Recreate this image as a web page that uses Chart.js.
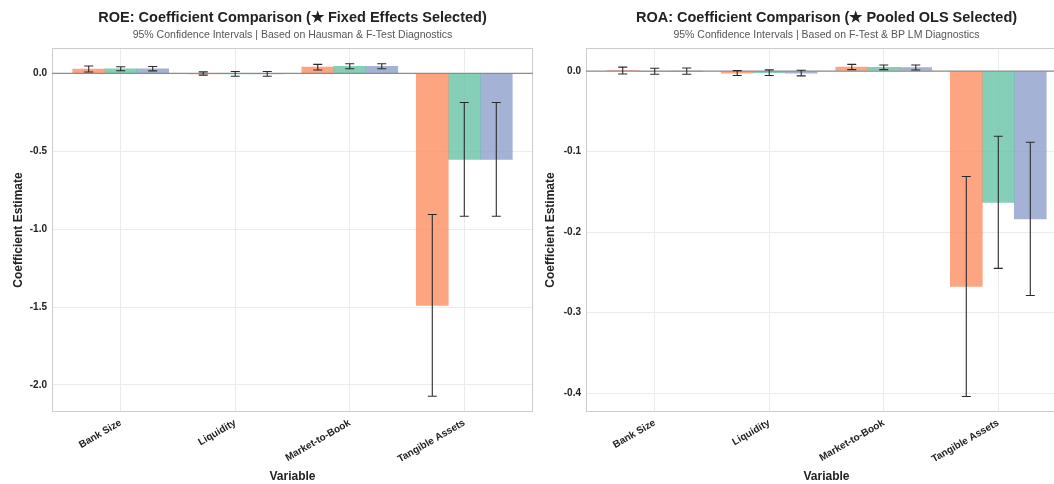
<!DOCTYPE html>
<html>
<head>
<meta charset="utf-8">
<script src="https://cdn.jsdelivr.net/npm/chart.js@4.4.1/dist/chart.umd.min.js"></script>
<style>
  html, body { margin: 0; padding: 0; background: #fff; overflow: hidden; }
  #wrap { position: relative; width: 1054px; height: 484px; overflow: hidden; }
  #roeChart { position: absolute; left: 0; top: 0; }
  #roaChart { position: absolute; left: 530px; top: 0; }
</style>
</head>
<body>
<div id="wrap">
  <canvas id="roeChart" width="534" height="484"></canvas>
  <canvas id="roaChart" width="540" height="484"></canvas>
</div>
<script>
// ---- data ----
const categories = ['Bank Size', 'Liquidity', 'Market-to-Book', 'Tangible Assets'];
const seriesNames = ['Pooled OLS', 'Fixed Effects', 'Random Effects'];

// ROE coefficients + 95% CI
const roePooled      = [0.028, -0.001, 0.040, -1.490];
const roePooledLow   = [0.009, -0.011, 0.022, -2.073];
const roePooledHigh  = [0.047,  0.010, 0.058, -0.906];
const roeFixed       = [0.030, -0.003, 0.046, -0.552];
const roeFixedLow    = [0.017, -0.018, 0.030, -0.917];
const roeFixedHigh   = [0.043,  0.012, 0.062, -0.187];
const roeRandom      = [0.030, -0.003, 0.046, -0.552];
const roeRandomLow   = [0.016, -0.018, 0.030, -0.917];
const roeRandomHigh  = [0.044,  0.012, 0.062, -0.187];

// ROA coefficients + 95% CI
const roaPooled      = [0.0006, -0.0025, 0.0050, -0.2675];
const roaPooledLow   = [-0.0037, -0.0055, 0.0017, -0.4040];
const roaPooledHigh  = [0.0049,  0.0005, 0.0083, -0.1310];
const roaFixed       = [-0.0003, -0.0020, 0.0046, -0.1630];
const roaFixedLow    = [-0.0040, -0.0055, 0.0017, -0.2450];
const roaFixedHigh   = [0.0034,  0.0015, 0.0075, -0.0810];
const roaRandom      = [-0.0001, -0.0025, 0.0043, -0.1835];
const roaRandomLow   = [-0.0040, -0.0060, 0.0012, -0.2786];
const roaRandomHigh  = [0.0037,  0.0010, 0.0075, -0.0884];

const roeTicks = [-2.0, -1.5, -1.0, -0.5, 0.0];
const roaTicks = [-0.4, -0.3, -0.2, -0.1, 0.0];

// ---- styles ----
const FONT = "'Liberation Sans', Arial, sans-serif";
const colors = ['rgba(252,141,98,0.8)', 'rgba(102,194,165,0.8)', 'rgba(141,160,203,0.8)'];

Chart.defaults.font.family = FONT;
Chart.defaults.color = '#222';

const frameAndErrors = {
  id: 'frameAndErrors',
  afterDatasetsDraw(chart) {
    const { ctx, chartArea: a, scales: { y } } = chart;
    ctx.save();
    // frame
    ctx.strokeStyle = '#cccccc';
    ctx.lineWidth = 1;
    ctx.strokeRect(a.left + 0.5, a.top + 0.5, a.right - a.left - 1, a.bottom - a.top - 1);
    // zero line
    const y0 = y.getPixelForValue(0);
    ctx.strokeStyle = '#8c8c8c';
    ctx.lineWidth = 1.2;
    ctx.beginPath();
    ctx.moveTo(a.left, y0);
    ctx.lineTo(a.right, y0);
    ctx.stroke();
    // error bars
    ctx.strokeStyle = '#2a2a2a';
    ctx.lineWidth = 1.1;
    chart.data.datasets.forEach((ds, i) => {
      chart.getDatasetMeta(i).data.forEach((bar, j) => {
        const yl = y.getPixelForValue(ds.low[j]);
        const yh = y.getPixelForValue(ds.high[j]);
        const x = bar.x;
        ctx.beginPath();
        ctx.moveTo(x, yl); ctx.lineTo(x, yh);
        ctx.moveTo(x - 4.5, yl); ctx.lineTo(x + 4.5, yl);
        ctx.moveTo(x - 4.5, yh); ctx.lineTo(x + 4.5, yh);
        ctx.stroke();
      });
    });
    ctx.restore();
  }
};

function makeDatasets(values, lows, highs) {
  return values.map((vals, s) => ({
    label: seriesNames[s],
    data: vals.map((v, i) => ({ x: i, y: v })),
    low: lows[s],
    high: highs[s],
    backgroundColor: colors[s],
    borderWidth: 0,
    barThickness: 32
  }));
}

function makeChart(el, cfg) {
  return new Chart(el, {
    type: 'bar',
    data: { datasets: makeDatasets(cfg.values, cfg.lows, cfg.highs) },
    options: {
      responsive: false,
      animation: false,
      layout: { padding: { left: 0, right: cfg.padRight, top: 0, bottom: 0 } },
      plugins: {
        legend: { display: false },
        tooltip: { enabled: false },
        title: {
          display: true, text: cfg.title, fullSize: false, color: '#222',
          font: { size: 14.5, weight: 'bold' }, padding: { top: 9, bottom: 0 }
        },
        subtitle: {
          display: true, text: cfg.subtitle, fullSize: false, color: '#555',
          font: { size: 10.5 }, padding: { top: 2, bottom: 7 }
        }
      },
      scales: {
        x: {
          type: 'linear', min: -0.6, max: 3.6, offset: false,
          grid: { color: '#ebebeb', offset: false, drawTicks: false },
          border: { display: false },
          afterFit: s => { s.height = 72; },
          ticks: {
            stepSize: 1, includeBounds: false, autoSkip: false,
            minRotation: 30, maxRotation: 30, padding: 5,
            font: { size: 10, weight: 'bold' }, color: '#222',
            callback: v => categories[v] ?? ''
          },
          title: { display: true, text: 'Variable', font: { size: 12, weight: 'bold' }, padding: { top: 0, bottom: 0 } }
        },
        y: {
          min: cfg.yMin, max: cfg.yMax,
          afterFit: s => { s.width = cfg.yWidth; },
          afterBuildTicks: s => { s.ticks = cfg.ticks.map(v => ({ value: v })); },
          grid: { color: '#ebebeb', drawTicks: false },
          border: { display: false },
          ticks: {
            padding: 5, font: { size: 10, weight: 'bold' }, color: '#222',
            callback: v => v.toFixed(1)
          },
          title: { display: true, text: 'Coefficient Estimate', font: { size: 12, weight: 'bold' }, padding: { top: cfg.yTitlePad, bottom: 0 } }
        }
      }
    },
    plugins: [frameAndErrors]
  });
}

makeChart(document.getElementById('roeChart'), {
  title: 'ROE: Coefficient Comparison (\u2605 Fixed Effects Selected)',
  subtitle: '95% Confidence Intervals | Based on Hausman & F-Test Diagnostics',
  values: [roePooled, roeFixed, roeRandom],
  lows: [roePooledLow, roeFixedLow, roeRandomLow],
  highs: [roePooledHigh, roeFixedHigh, roeRandomHigh],
  ticks: roeTicks,
  yMin: -2.174, yMax: 0.163, yWidth: 52, yTitlePad: 11, padRight: 1
});

makeChart(document.getElementById('roaChart'), {
  title: 'ROA: Coefficient Comparison (\u2605 Pooled OLS Selected)',
  subtitle: '95% Confidence Intervals | Based on F-Test & BP LM Diagnostics',
  values: [roaPooled, roaFixed, roaRandom],
  lows: [roaPooledLow, roaFixedLow, roaRandomLow],
  highs: [roaPooledHigh, roaFixedHigh, roaRandomHigh],
  ticks: roaTicks,
  yMin: -0.4233, yMax: 0.0286, yWidth: 56, yTitlePad: 13, padRight: 3
});
</script>
</body>
</html>
